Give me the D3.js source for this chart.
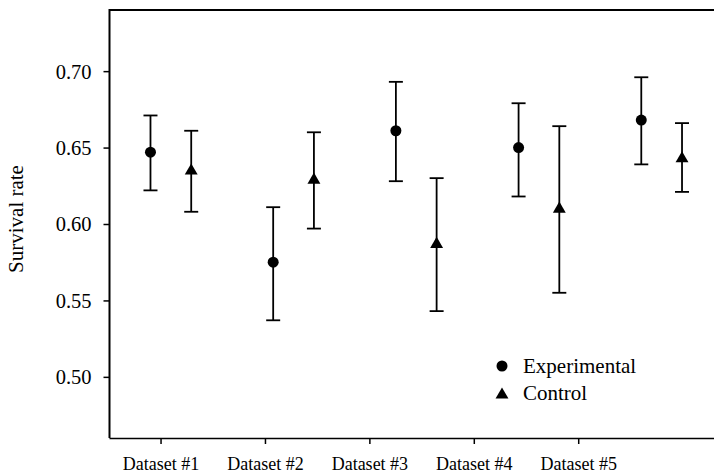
<!DOCTYPE html>
<html>
<head>
<meta charset="utf-8">
<script src="https://cdn.jsdelivr.net/npm/d3@7"></script>
<style>
  html, body { margin: 0; padding: 0; background: #fff; }
  svg { display: block; }
  text { font-family: "Liberation Serif", "Times New Roman", serif; fill: #000; }
</style>
</head>
<body>
<svg id="chart" width="714" height="474"></svg>
<script>
// Survival rate per dataset: point estimate with lower / upper interval bounds
const datasets = ["Dataset #1", "Dataset #2", "Dataset #3", "Dataset #4", "Dataset #5"];
const tickPositions = [0.916, 1.767, 2.618, 3.469, 4.320];

const experimentalMean  = [0.647, 0.575, 0.661, 0.650, 0.668];
const experimentalLower = [0.622, 0.537, 0.628, 0.618, 0.639];
const experimentalUpper = [0.671, 0.611, 0.693, 0.679, 0.696];

const controlMean  = [0.636, 0.630, 0.588, 0.611, 0.644];
const controlLower = [0.608, 0.597, 0.543, 0.555, 0.621];
const controlUpper = [0.661, 0.660, 0.630, 0.664, 0.666];

const yTicks = [0.50, 0.55, 0.60, 0.65, 0.70];

const svg = d3.select("#chart");
const plotLeft = 109.5, plotTop = 10, plotBottom = 438;
const serif = "'Liberation Serif', 'Times New Roman', serif";

const x = d3.scaleLinear().domain([0.5, 5.5]).range([plotLeft, plotLeft + 5 * 122.7]);
const y = d3.scaleLinear().domain([0.46, 0.74]).range([plotBottom, plotTop]);

// Upward triangle centred on its bounding box rather than its centroid
const symbolTriangleBox = {
  draw(context, size) {
    const s = Math.sqrt(size / (Math.sqrt(3) / 4));
    const h = s * Math.sqrt(3) / 2;
    context.moveTo(0, -h / 2);
    context.lineTo(s / 2, h / 2);
    context.lineTo(-s / 2, h / 2);
    context.closePath();
  }
};

const groupOffset = 0.166;
const series = [
  { name: "Experimental", mean: experimentalMean, lo: experimentalLower, hi: experimentalUpper,
    dx: -groupOffset, symbol: d3.symbolCircle, size: 95 },
  { name: "Control", mean: controlMean, lo: controlLower, hi: controlUpper,
    dx: groupOffset, symbol: symbolTriangleBox, size: 72 }
];

// Frame lines: top and left
svg.append("line").attr("x1", plotLeft).attr("x2", 714).attr("y1", plotTop).attr("y2", plotTop)
  .attr("stroke", "#000").attr("stroke-width", 2.2);
svg.append("line").attr("x1", plotLeft).attr("x2", plotLeft).attr("y1", plotTop - 1).attr("y2", plotBottom)
  .attr("stroke", "#000").attr("stroke-width", 2);

// Y axis
const yAxis = svg.append("g").attr("transform", `translate(${plotLeft},0)`)
  .call(d3.axisLeft(y).tickValues(yTicks).tickFormat(d3.format(".2f")).tickSize(6).tickPadding(12));
yAxis.attr("font-family", serif);
yAxis.select(".domain").remove();
yAxis.selectAll(".tick line").attr("stroke", "#000").attr("stroke-width", 1.5);
yAxis.selectAll(".tick text").attr("font-size", 20.5).attr("dy", "0.34em");

// X axis with dataset labels
const xAxis = svg.append("g").attr("transform", `translate(0,${plotBottom})`)
  .call(d3.axisBottom(x).tickValues(tickPositions)
    .tickFormat((d, i) => datasets[i]).tickSize(6).tickPadding(13).tickSizeOuter(0));
xAxis.attr("font-family", serif);
xAxis.select(".domain").attr("d", `M${plotLeft},0.5H714`).attr("stroke", "#000").attr("stroke-width", 1.6);
xAxis.selectAll(".tick line").attr("stroke", "#000").attr("stroke-width", 1.5);
xAxis.selectAll(".tick text").attr("font-size", 18);

// Y axis title
svg.append("text")
  .attr("transform", `translate(22.5,219) rotate(-90)`)
  .attr("text-anchor", "middle")
  .attr("font-size", 21)
  .text("Survival rate");

// Error bars and markers
const capHalf = 7;
series.forEach(s => {
  const g = svg.append("g");
  const idx = d3.range(datasets.length);
  const px = i => x(i + 1 + s.dx);
  g.selectAll("line.bar").data(idx).join("line")
    .attr("x1", px).attr("x2", px)
    .attr("y1", i => y(s.lo[i])).attr("y2", i => y(s.hi[i]))
    .attr("stroke", "#000").attr("stroke-width", 1.8);
  g.selectAll("line.capTop").data(idx).join("line")
    .attr("x1", i => px(i) - capHalf).attr("x2", i => px(i) + capHalf)
    .attr("y1", i => y(s.hi[i])).attr("y2", i => y(s.hi[i]))
    .attr("stroke", "#000").attr("stroke-width", 1.8);
  g.selectAll("line.capBot").data(idx).join("line")
    .attr("x1", i => px(i) - capHalf).attr("x2", i => px(i) + capHalf)
    .attr("y1", i => y(s.lo[i])).attr("y2", i => y(s.lo[i]))
    .attr("stroke", "#000").attr("stroke-width", 1.8);
  g.selectAll("path.mark").data(idx).join("path")
    .attr("transform", i => `translate(${px(i)},${y(s.mean[i])})`)
    .attr("d", d3.symbol(s.symbol, s.size))
    .attr("fill", "#000");
});

// Legend
const legend = svg.append("g").attr("transform", "translate(502,366)");
series.forEach((s, i) => {
  const row = legend.append("g").attr("transform", `translate(0,${i * 27})`);
  row.append("path").attr("d", d3.symbol(s.symbol, s.size)).attr("fill", "#000");
  row.append("text").attr("x", 21).attr("y", 7).attr("font-size", 21).text(s.name);
});
</script>
</body>
</html>
